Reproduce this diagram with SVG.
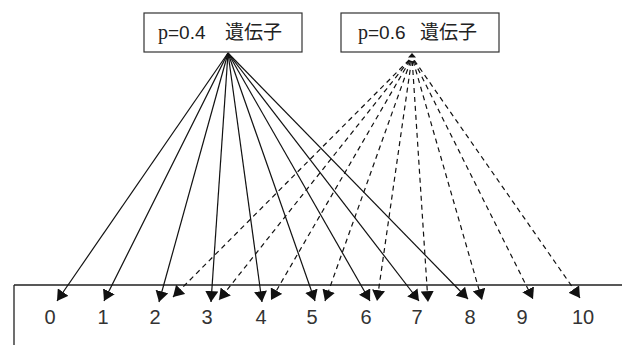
<svg xmlns="http://www.w3.org/2000/svg" width="622" height="345" viewBox="0 0 622 345">
<style>
.box{fill:#fff;stroke:#333;stroke-width:1.2}
.lbl{font-family:"Liberation Sans","Noto Sans CJK JP",sans-serif;font-size:19px;fill:#222}
.p{font-family:"Liberation Serif",serif;font-size:20px}
.jp{font-family:"Noto Sans CJK JP",sans-serif;font-size:19px}
.num{font-family:"Liberation Sans",sans-serif;font-size:20px;fill:#333;text-anchor:middle}
.s{stroke:#111;stroke-width:1.2;fill:none;marker-end:url(#ah)}
.d{stroke:#111;stroke-width:1.2;fill:none;stroke-dasharray:5 4;stroke-dashoffset:5;marker-end:url(#ah)}
.axis{stroke:#222;stroke-width:1.3;fill:none}
</style>
<defs>
<marker id="ah" viewBox="0 0 10 12" refX="10" refY="6" markerWidth="11" markerHeight="13" markerUnits="userSpaceOnUse" orient="auto">
<path d="M0,0 L10,6 L0,12 z" fill="#111"/>
</marker>
</defs>
<g id="node-p04">
<rect class="box" x="144" y="13" width="158" height="39"/>
<text class="lbl" y="39"><tspan class="p" x="158">p</tspan><tspan>=0.4</tspan><tspan class="jp" x="225">遺伝子</tspan></text>
</g>
<g id="node-p06">
<rect class="box" x="341" y="13" width="158" height="39"/>
<text class="lbl" y="39"><tspan class="p" x="358">p</tspan><tspan>=0.6</tspan><tspan class="jp" x="420">遺伝子</tspan></text>
<path d="M412,53 L416,57.5 L408,57.5 z" fill="#111"/>
</g>
<g id="axis">
<path class="axis" d="M14,285 H622 M14,285 V345"/>
</g>
<g id="labels">
<text class="num" x="50" y="324">0</text>
<text class="num" x="103" y="324">1</text>
<text class="num" x="155" y="324">2</text>
<text class="num" x="207" y="324">3</text>
<text class="num" x="261" y="324">4</text>
<text class="num" x="312" y="324">5</text>
<text class="num" x="366" y="324">6</text>
<text class="num" x="417" y="324">7</text>
<text class="num" x="470" y="324">8</text>
<text class="num" x="522" y="324">9</text>
<text class="num" x="583" y="324">10</text>
</g>
<g id="connectors">
<line class="s" x1="228" y1="53" x2="57" y2="301"/>
<line class="s" x1="228" y1="53" x2="104" y2="301"/>
<line class="s" x1="228" y1="53" x2="159" y2="302"/>
<line class="s" x1="228" y1="53" x2="211" y2="302"/>
<line class="s" x1="228" y1="53" x2="262" y2="302"/>
<line class="s" x1="228" y1="53" x2="315" y2="301"/>
<line class="s" x1="228" y1="53" x2="370" y2="301"/>
<line class="s" x1="228" y1="53" x2="419" y2="301"/>
<line class="s" x1="228" y1="53" x2="468" y2="299"/>
<line class="d" x1="412" y1="57" x2="173" y2="297"/>
<line class="d" x1="412" y1="57" x2="219" y2="300"/>
<line class="d" x1="412" y1="57" x2="271" y2="300"/>
<line class="d" x1="412" y1="57" x2="325" y2="301"/>
<line class="d" x1="412" y1="57" x2="377" y2="301"/>
<line class="d" x1="412" y1="57" x2="428" y2="302"/>
<line class="d" x1="412" y1="57" x2="482" y2="300"/>
<line class="d" x1="412" y1="57" x2="533" y2="299"/>
<line class="d" x1="412" y1="57" x2="580" y2="298"/>
</g>
</svg>
